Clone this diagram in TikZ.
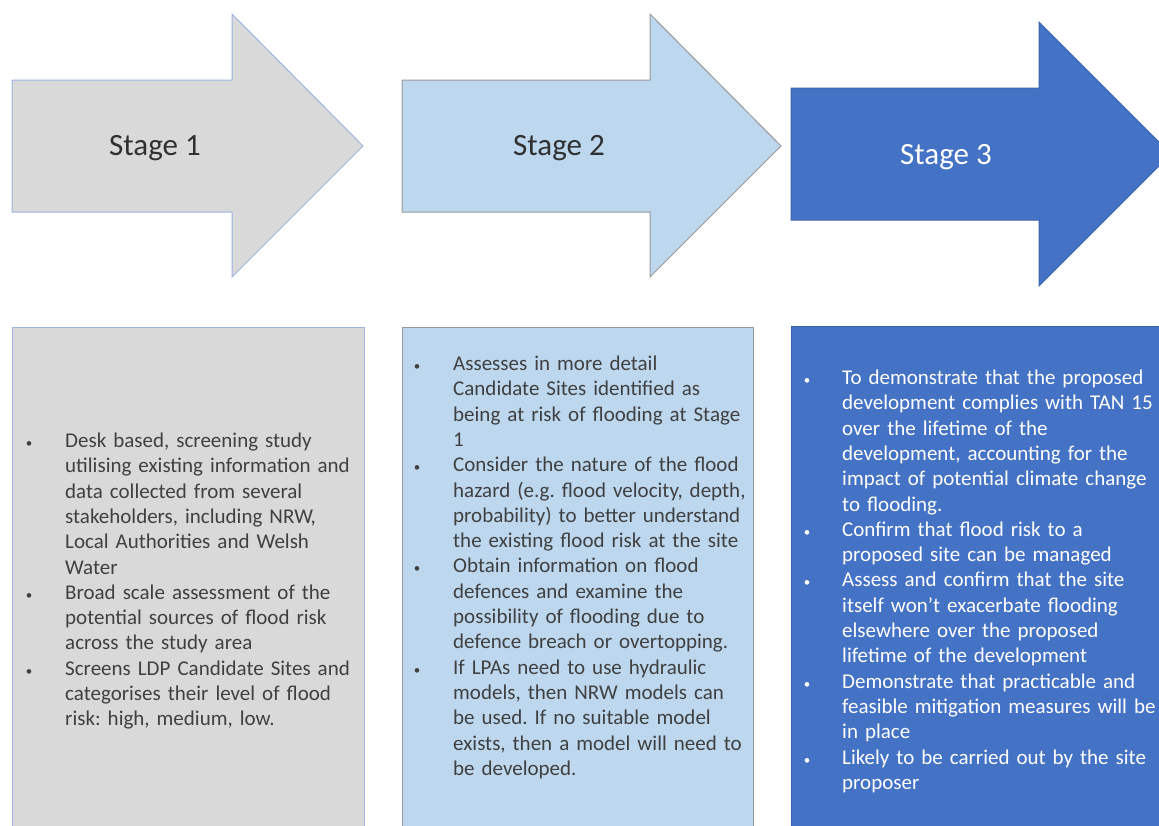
\documentclass[tikz,border=0pt]{standalone}
\usepackage{fontspec}
\setmainfont{Carlito}
\usepackage{enumitem}
\usetikzlibrary{positioning}
\frenchspacing

\definecolor{stageonefill}{HTML}{D9D9D9}
\definecolor{stagetwofill}{HTML}{BDD7EE}
\definecolor{stagethreefill}{HTML}{4472C4}
\definecolor{stageoneline}{HTML}{9DB5E0}
\definecolor{stagetwoline}{HTML}{999999}
\definecolor{stagethreeline}{HTML}{3A64B0}
\definecolor{darktext}{HTML}{404040}
\definecolor{titletext}{HTML}{303030}

\newcommand{\stagebullet}{\makebox[0pt][c]{\fontsize{13}{13}\selectfont\textbullet}}

\tikzset{
  stagearrow/.style={line width=1pt, line join=miter},
  stagetitle/.style={inner sep=0pt, anchor=base, font=\fontsize{31}{37}\selectfont},
  infobox/.style={line width=1pt},
  infotext/.style={text width=380pt, inner sep=0pt, anchor=north west, align=left,
    font=\fontsize{21}{25.3}\selectfont},
}

\begin{document}
\begin{tikzpicture}[x=1pt,y=-1pt]
\useasboundingbox (0,0) rectangle (1159,825);
\clip (0,0) rectangle (1159,825);
% arrows
\draw[stagearrow,fill=stageonefill,draw=stageoneline] (12,80) -- (232,80) -- (232,14) -- (363,146) -- (232,277) -- (232,212) -- (12,212) -- cycle;
\draw[stagearrow,fill=stagetwofill,draw=stagetwoline] (402,80) -- (650,80) -- (650,14) -- (781,146) -- (650,277) -- (650,212) -- (402,212) -- cycle;
\draw[stagearrow,fill=stagethreefill,draw=stagethreeline] (791,88) -- (1039,88) -- (1039,22) -- (1171,154) -- (1039,286) -- (1039,220) -- (791,220) -- cycle;
\node[stagetitle,text=titletext] (stage1) at (155,155) {Stage 1};
\node[stagetitle,text=titletext] (stage2) at (559,155) {Stage 2};
\node[stagetitle,text=white] (stage3) at (946,164) {Stage 3};
% boxes
\draw[infobox,fill=stageonefill,draw=stageoneline] (12,327) rectangle (364,830);
\draw[infobox,fill=stagetwofill,draw=stagetwoline] (402,327) rectangle (753,830);
\draw[infobox,fill=stagethreefill,draw=stagethreeline] (791,326) rectangle (1170,830);
\node[infotext,text=darktext] (text1) at (12,422) {%
\begin{itemize}[leftmargin=53pt,labelwidth=0pt,labelsep=36pt,label=\stagebullet,itemsep=0pt,parsep=0pt,topsep=0pt,partopsep=0pt]
\item Desk based, screening study\newline utilising existing information and\newline data collected from several\newline stakeholders, including NRW,\newline Local Authorities and Welsh\newline Water
\item Broad scale assessment of the\newline potential sources of flood risk\newline across the study area
\item Screens LDP Candidate Sites and\newline categorises their level of flood\newline risk: high, medium, low.
\end{itemize}};
\node[infotext,text=darktext] (text2) at (402,345) {%
\begin{itemize}[leftmargin=51pt,labelwidth=0pt,labelsep=36pt,label=\stagebullet,itemsep=0pt,parsep=0pt,topsep=0pt,partopsep=0pt]
\item Assesses in more detail\newline Candidate Sites identified as\newline being at risk of flooding at Stage\newline 1
\item Consider the nature of the flood\newline hazard (e.g. flood velocity, depth,\newline probability) to better understand\newline the existing flood risk at the site
\item Obtain information on flood\newline defences and examine the\newline possibility of flooding due to\newline defence breach or overtopping.
\item If LPAs need to use hydraulic\newline models, then NRW models can\newline be used. If no suitable model\newline exists, then a model will need to\newline be developed.
\end{itemize}};
\node[infotext,text=white] (text3) at (791,359) {%
\begin{itemize}[leftmargin=51pt,labelwidth=0pt,labelsep=35pt,label=\stagebullet,itemsep=0pt,parsep=0pt,topsep=0pt,partopsep=0pt]
\item To demonstrate that the proposed\newline development complies with TAN 15\newline over the lifetime of the\newline development, accounting for the\newline impact of potential climate change\newline to flooding.
\item Confirm that flood risk to a\newline proposed site can be managed
\item Assess and confirm that the site\newline itself won’t exacerbate flooding\newline elsewhere over the proposed\newline lifetime of the development
\item Demonstrate that practicable and\newline feasible mitigation measures will be\newline in place
\item Likely to be carried out by the site\newline proposer
\end{itemize}};
\end{tikzpicture}
\end{document}
